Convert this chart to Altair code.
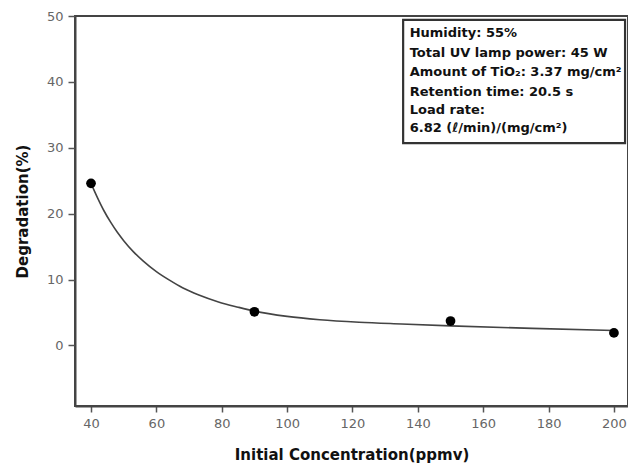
import altair as alt
import pandas as pd

# Measured points
conc = [40, 90, 150, 200]
degr = [24.6, 5.1, 3.7, 1.9]

# Fitted curve
curve_x = [40, 42, 44, 46, 48, 50, 53, 56, 60, 64, 68, 73, 79, 85, 90, 100, 110, 122, 135, 150, 175, 200]
curve_y = [24.6, 22.4, 20.4, 18.7, 17.2, 15.9, 14.2, 12.8, 11.2, 9.9, 8.75, 7.65, 6.6, 5.8,
           5.2, 4.4, 3.9, 3.52, 3.25, 2.97, 2.58, 2.27]

info_lines = [
    "Humidity: 55%",
    "Total UV lamp power: 45 W",
    "Amount of TiO\u2082: 3.37 mg/cm\u00b2",
    "Retention time: 20.5 s",
    "Load rate:",
    "6.82 (\u2113/min)/(mg/cm\u00b2)",
]
info_y = [47.4, 44.4, 41.5, 38.45, 35.7, 33.0]

pts = pd.DataFrame({"x": conc, "y": degr})
crv = pd.DataFrame({"x": curve_x, "y": curve_y})

XD = [35.1, 204.3]
YD = [-9.2, 50]
FONT = "DejaVu Sans"

xscale = alt.Scale(domain=XD, nice=False, zero=False)
yscale = alt.Scale(domain=YD, nice=False, zero=False)

xaxis = alt.Axis(title="Initial Concentration(ppmv)", values=list(range(40, 201, 20)),
                 grid=False, tickSize=6, labelPadding=5, titlePadding=17)
yaxis = alt.Axis(title="Degradation(%)", values=list(range(0, 51, 10)),
                 grid=False, tickSize=7, labelPadding=5, titlePadding=16)

line = alt.Chart(crv).mark_line(color="#444", strokeWidth=1.6, interpolate="monotone").encode(
    x=alt.X("x:Q", scale=xscale, axis=xaxis),
    y=alt.Y("y:Q", scale=yscale, axis=yaxis),
)
dots = alt.Chart(pts).mark_circle(color="black", size=95, opacity=1).encode(
    x=alt.X("x:Q", scale=xscale),
    y=alt.Y("y:Q", scale=yscale),
)

box_df = pd.DataFrame({"x": [135.5], "x2": [203.4], "y": [49.4], "y2": [30.7]})
box = alt.Chart(box_df).mark_rect(fill="white", stroke="#333", strokeWidth=2.2).encode(
    x=alt.X("x:Q", scale=xscale), x2="x2:Q",
    y=alt.Y("y:Q", scale=yscale), y2="y2:Q",
)

txt_df = pd.DataFrame({"t": info_lines, "x": [137.5] * len(info_lines), "y": info_y})
txt = alt.Chart(txt_df).mark_text(align="left", baseline="middle", fontSize=13,
                                  fontWeight="bold", font=FONT, color="#111").encode(
    x=alt.X("x:Q", scale=xscale),
    y=alt.Y("y:Q", scale=yscale),
    text="t:N",
)

chart = alt.layer(line, dots, box, txt).properties(
    width=553, height=390,
    autosize=alt.AutoSizeParams(type="none"),
    padding={"left": 67, "top": 8, "right": 0, "bottom": 59},
).configure_view(stroke="#444", strokeWidth=2).configure_axis(
    domainColor="#444", domainWidth=2, tickColor="#555", tickWidth=1.5,
    labelFont=FONT, labelFontSize=13, labelColor="#666",
    titleFont=FONT, titleFontSize=15, titleFontWeight="bold", titleColor="#111",
)

chart.save("out.html", embed_options={"renderer": "svg", "actions": False})
